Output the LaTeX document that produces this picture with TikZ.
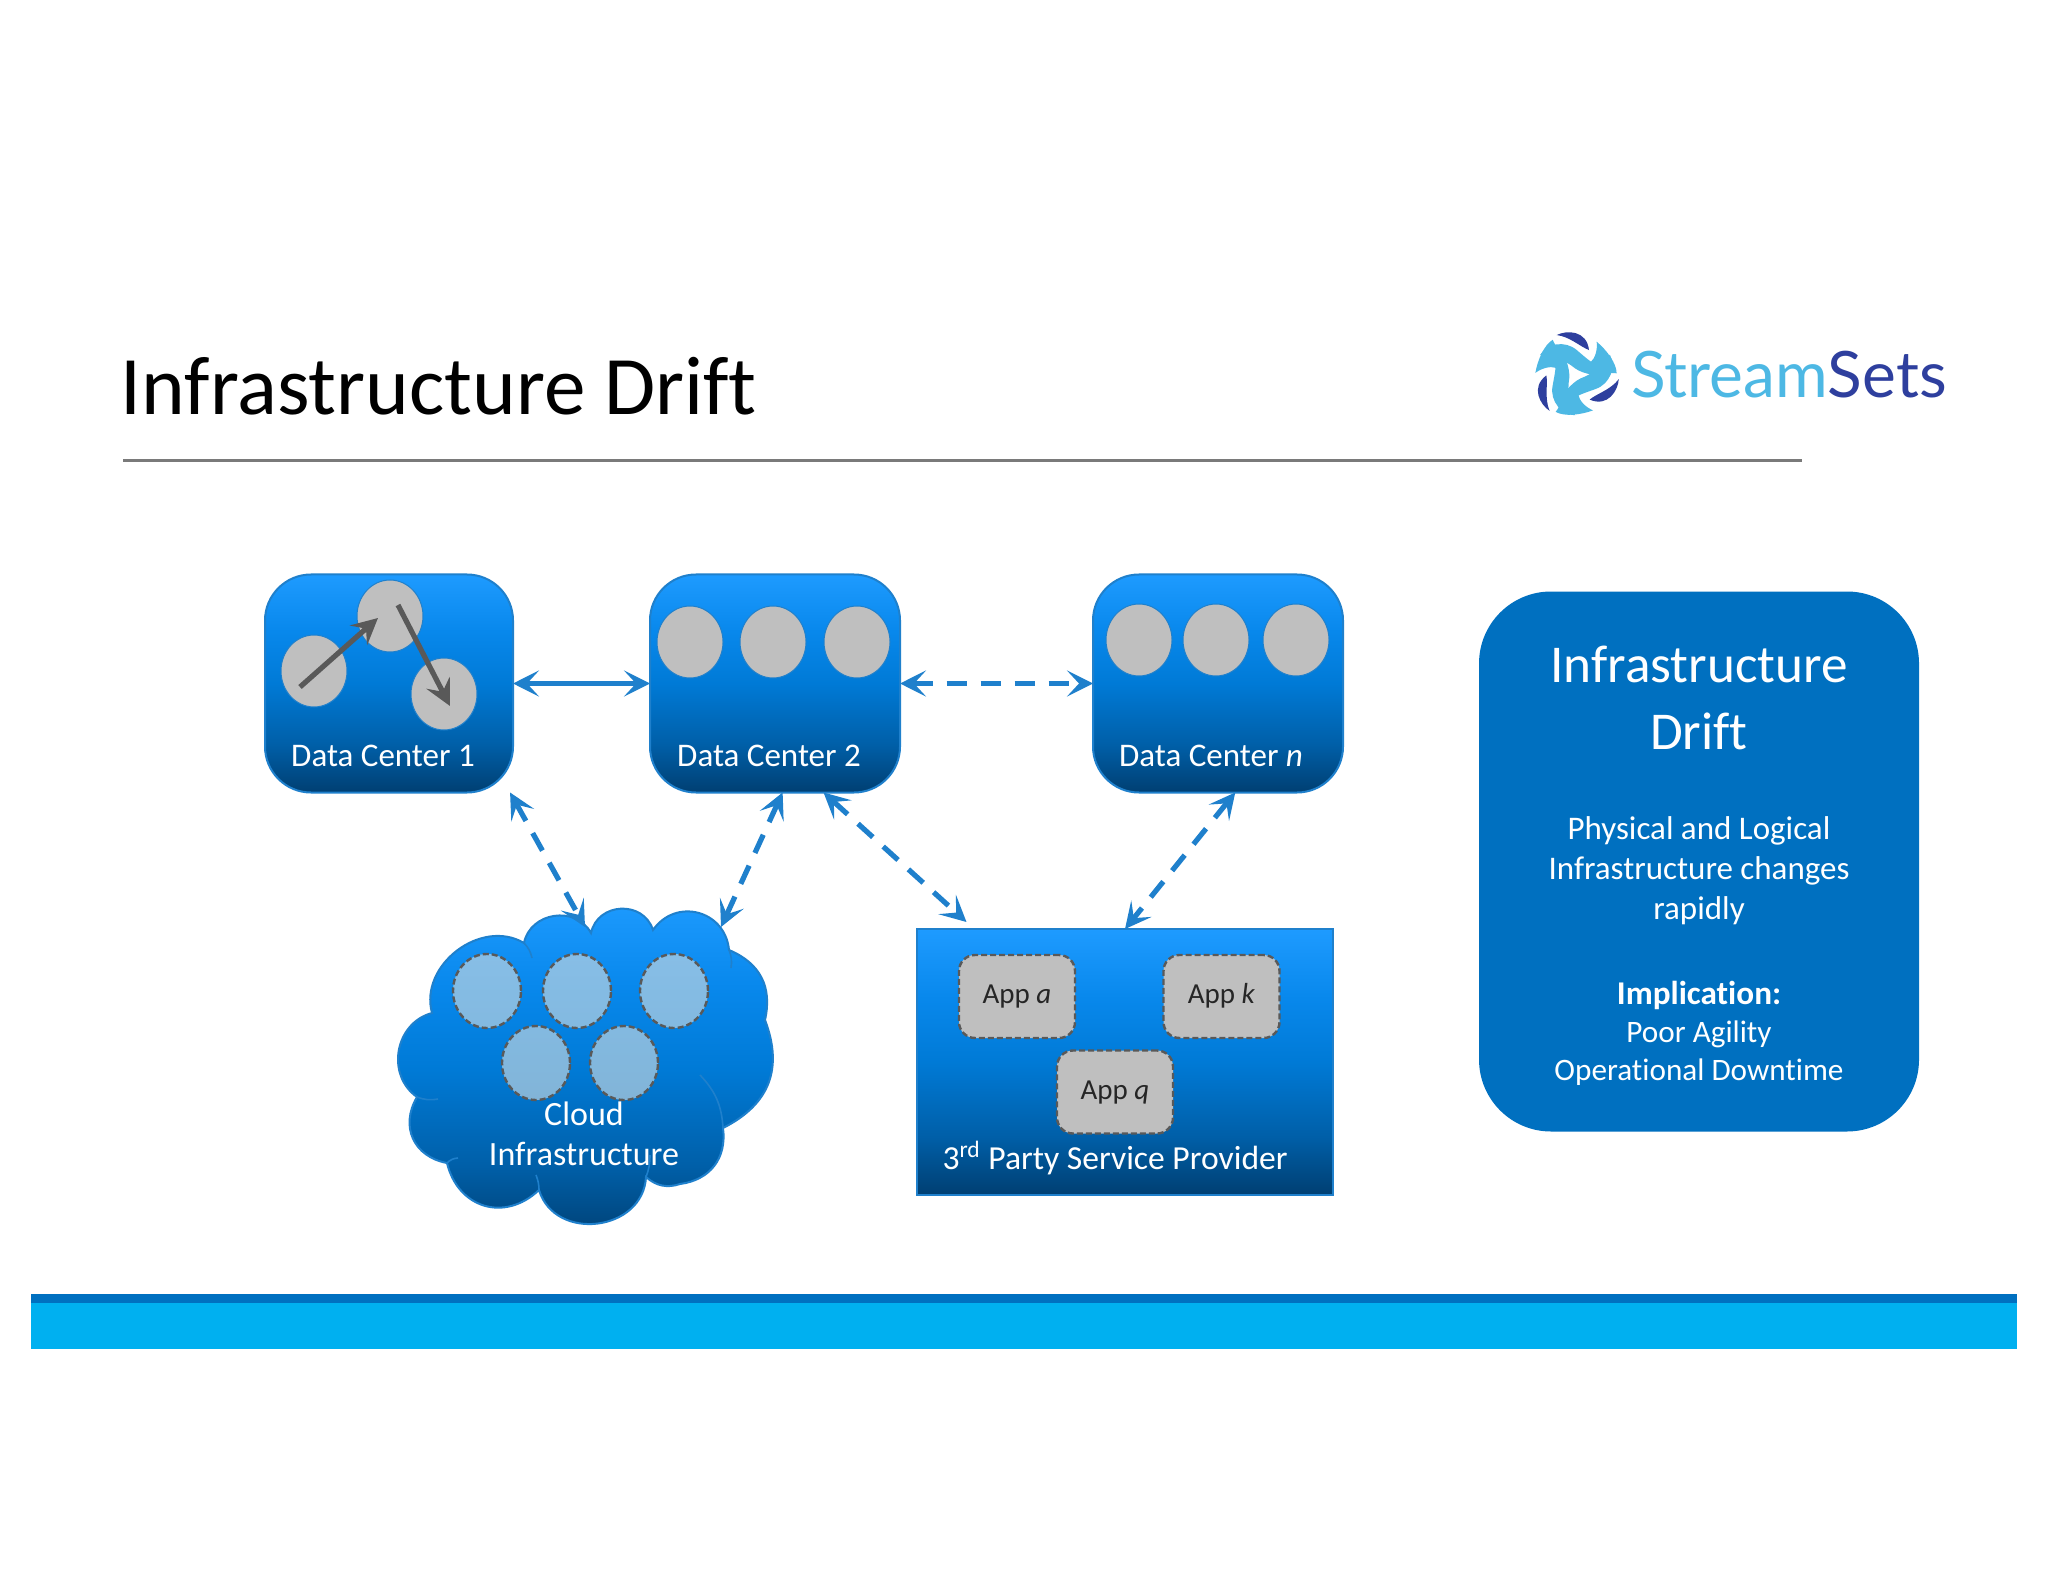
\documentclass[tikz,border=0pt]{standalone}
\usepackage{fontspec}
\setmainfont{Carlito}[Ligatures=NoCommon]
\newfontfamily\logofont{Lato}
\usetikzlibrary{shapes.geometric, arrows.meta}
\definecolor{linkblue}{HTML}{1F80CC}
\definecolor{boxblue}{HTML}{0070C0}
\definecolor{barblue}{HTML}{00B0F0}
\definecolor{skyblue}{HTML}{4DB8E4}
\definecolor{logoblue}{HTML}{2E3F9E}
\definecolor{vmgray}{HTML}{BFBFBF}
\definecolor{cloudgray}{HTML}{C8D8E0}
\definecolor{edgegray}{HTML}{595959}
\definecolor{dcbottom}{HTML}{003F72}
\definecolor{dclow}{HTML}{005FA8}
\definecolor{dcmid}{HTML}{007AD6}
\definecolor{dchigh}{HTML}{0888EC}
\definecolor{dctop}{HTML}{1E9BFF}
\pgfdeclareverticalshading{dcfill}{100bp}{color(0bp)=(dcbottom); color(25bp)=(dcbottom);
    color(36bp)=(dclow); color(50bp)=(dcmid); color(62bp)=(dchigh); color(75bp)=(dctop); color(100bp)=(dctop)}
\tikzset{
    datacenter/.style={shading=dcfill, draw=linkblue, line width=1pt, rounded corners=23pt,
        minimum width=125pt, minimum height=109pt, inner sep=0pt, outer sep=0pt},
    vm/.style={ellipse, fill=vmgray, draw=linkblue, line width=.5pt, minimum width=33pt, minimum height=36pt, inner sep=0pt},
    cloudvm/.style={ellipse, fill=cloudgray, fill opacity=.65, draw=edgegray, dash pattern=on 3pt off 1.5pt, line width=1.2pt,
        minimum width=34pt, minimum height=37pt, inner sep=0pt},
    appbox/.style={rectangle, fill=vmgray, draw=edgegray, dash pattern=on 3pt off 1.5pt, line width=1.2pt, rounded corners=8pt,
        minimum width=58pt, minimum height=41.5pt, inner sep=0pt, text=black!85, text height=10pt, text depth=3pt,
        font=\fontsize{14.5}{17}\selectfont},
    boxlabel/.style={text=white, font=\fontsize{16.5}{20}\selectfont, align=center, inner sep=0pt},
    summary/.style={text=white, align=center, inner sep=0pt},
    linkarrow/.style={draw=linkblue, line width=2.6pt, {Stealth[length=13pt,width=13pt,inset=6pt]}-{Stealth[length=13pt,width=13pt,inset=6pt]}},
    linkdash/.style={linkarrow, dash pattern=on 10pt off 7pt},
    movearrow/.style={draw=edgegray, line width=2.6pt, -{Stealth[length=13pt,width=13pt,inset=5pt]}}
}
\begin{document}
\begin{tikzpicture}[x=.5pt, y=-.5pt]
    \useasboundingbox (0,0) rectangle (2048,1582);
    \fill[white] (0,0) rectangle (2048,1582);
    \node[anchor=base west, inner sep=0pt, font=\fontsize{41.6}{48}\selectfont] (title) at (120,415) {Infrastructure Drift};
    \draw[edgegray!80, line width=1.5pt] (123,461) -- (1802,461);

    \begin{scope}[shift={(1575,375)}, scale=.333]
        \foreach \a in {0,120,240} {
            \begin{scope}[rotate=\a]
                \fill[skyblue] (-105,-60) .. controls (-85,-95) and (-30,-105) .. (5,-75)
                    .. controls (25,-58) and (40,-45) .. (48,-40)
                    .. controls (60,-50) and (68,-75) .. (65,-100)
                    .. controls (95,-75) and (125,-35) .. (125,-5)
                    .. controls (100,-10) and (80,5) .. (55,0)
                    .. controls (30,-5) and (15,-10) .. (0,-20)
                    .. controls (-30,-45) and (-70,-60) .. (-105,-60) -- cycle;
                \fill[logoblue] (-55,-120) .. controls (-25,-135) and (35,-135) .. (42,-75)
                    .. controls (15,-85) and (-15,-115) .. (-55,-120) -- cycle;
            \end{scope}
        }
    \end{scope}
    \node[anchor=base west, inner sep=0pt, font=\logofont\fontsize{32}{36}\selectfont] (logo) at (1631,398) {\textcolor{skyblue}{Stream}\textcolor{logoblue}{Sets}};

    \node[datacenter, minimum width=124pt] (dcone) at (389,683.5) {};
    \node[datacenter] (dctwo) at (775,683.5) {};
    \node[datacenter] (dcn) at (1218,683.5) {};
    \node[boxlabel] (dconelabel) at (383,756) {Data Center 1};
    \node[boxlabel] (dctwolabel) at (769,756) {Data Center 2};
    \node[boxlabel] (dcnlabel) at (1211,756) {Data Center \textit{n}};

    \node[vm] (vmone) at (314,671) {};
    \node[vm] (vmtwo) at (390,616) {};
    \node[vm] (vmthree) at (444,694) {};
    \foreach \n/\x in {a/690,b/773,c/857}
        \node[vm] (vm\n) at (\x,642) {};
    \foreach \n/\x in {d/1139,e/1216,f/1296}
        \node[vm] (vm\n) at (\x,640) {};
    \coordinate (movestart) at (300,687);
    \coordinate (movemid) at (378,618);
    \coordinate (movefrom) at (398,605);
    \coordinate (moveend) at (450,706);
    \draw[movearrow] (movestart) -- (movemid);
    \draw[movearrow] (movefrom) -- (moveend);

    \shade[shading=dcfill, draw=linkblue, line width=1pt] (432,1013) to[bend left=68, looseness=1.1] (524,943)
        to[bend left=70, looseness=1.2] (591,933) to[bend left=75, looseness=1.3] (653,930) to[bend left=70, looseness=1.3] (729,950)
        to[bend left=40, looseness=1.1] (765,1020) to[bend left=42, looseness=1.15] (723,1128) to[bend left=45, looseness=1.1] (680,1184)
        to[bend left=30] (646,1177) to[bend left=80, looseness=1.3] (539,1190) to[bend left=60, looseness=1.25] (447,1163)
        to[bend left=55, looseness=1.2] (417,1097) to[bend left=65, looseness=1.15] (432,1013) -- cycle;
    \draw[linkblue, line width=.8pt] (524,943) to[bend left=15] (532,958) (729,950) to[bend left=15] (731,968)
        (723,1128) to[bend right=20] (700,1075) (646,1177) to[bend right=10] (650,1155)
        (539,1190) to[bend right=10] (536,1175) (447,1163) to[bend left=20] (458,1158)
        (417,1097) to[bend right=15] (438,1099);
    \foreach \n/\x/\y in {a/487/991,b/577/991,c/674/991,d/536/1063,e/624/1063}
        \node[cloudvm] (cvm\n) at (\x,\y) {};
    \node[boxlabel, font=\fontsize{17}{20}\selectfont] (cloudlabel) at (584,1134) {Cloud\\Infrastructure};
    \coordinate (cloudleft) at (585,927);
    \coordinate (cloudright) at (721,927);

    \node[rectangle, shading=dcfill, draw=linkblue, line width=1pt, minimum width=208pt, minimum height=133pt, inner sep=0pt, outer sep=0pt] (provider) at (1125,1062) {};
    \node[appbox] (appa) at (1017,996.5) {App \textit{a}};
    \node[appbox] (appk) at (1221.5,996.5) {App \textit{k}};
    \node[appbox] (appq) at (1115,1092) {App \textit{q}};
    \node[boxlabel, font=\fontsize{16.8}{20}\selectfont] (providerlabel) at (1115,1158) {3\textsuperscript{rd} Party Service Provider};

    \draw[linkarrow] (dcone.east) -- (dctwo.west);
    \draw[linkdash] (dctwo.east) -- (dcn.west);
    \draw[linkdash] (dcone.-42) -- (cloudleft);
    \draw[linkdash] (dctwo.-86) -- (cloudright);
    \draw[linkdash] (dctwo.-66) -- ([yshift=3.5pt]provider.140);
    \draw[linkdash] (dcn.-81) -- (provider.north);

    \node[rectangle, fill=boxblue, rounded corners=36pt, minimum width=220pt, minimum height=270pt, inner sep=0pt] (sidebox) at (1699,861.5) {};
    \node[summary, font=\fontsize{26.6}{33.5}\selectfont] (sidetitle) at (1699,698) {Infrastructure\\Drift};
    \node[summary, font=\fontsize{16.5}{20}\selectfont] (sidetext) at (1699,871) {Physical and Logical\\Infrastructure changes\\rapidly};
    \node[summary, font=\fontsize{15.6}{19}\selectfont] (sideimpl) at (1699,1033) {\fontsize{16.6}{19}\selectfont\textbf{Implication:}\\\fontsize{15.6}{19}\selectfont Poor Agility\\Operational Downtime};

    \fill[barblue] (31,1294) rectangle (2017,1349);
    \fill[boxblue] (31,1294) rectangle (2017,1303);
\end{tikzpicture}
\end{document}
